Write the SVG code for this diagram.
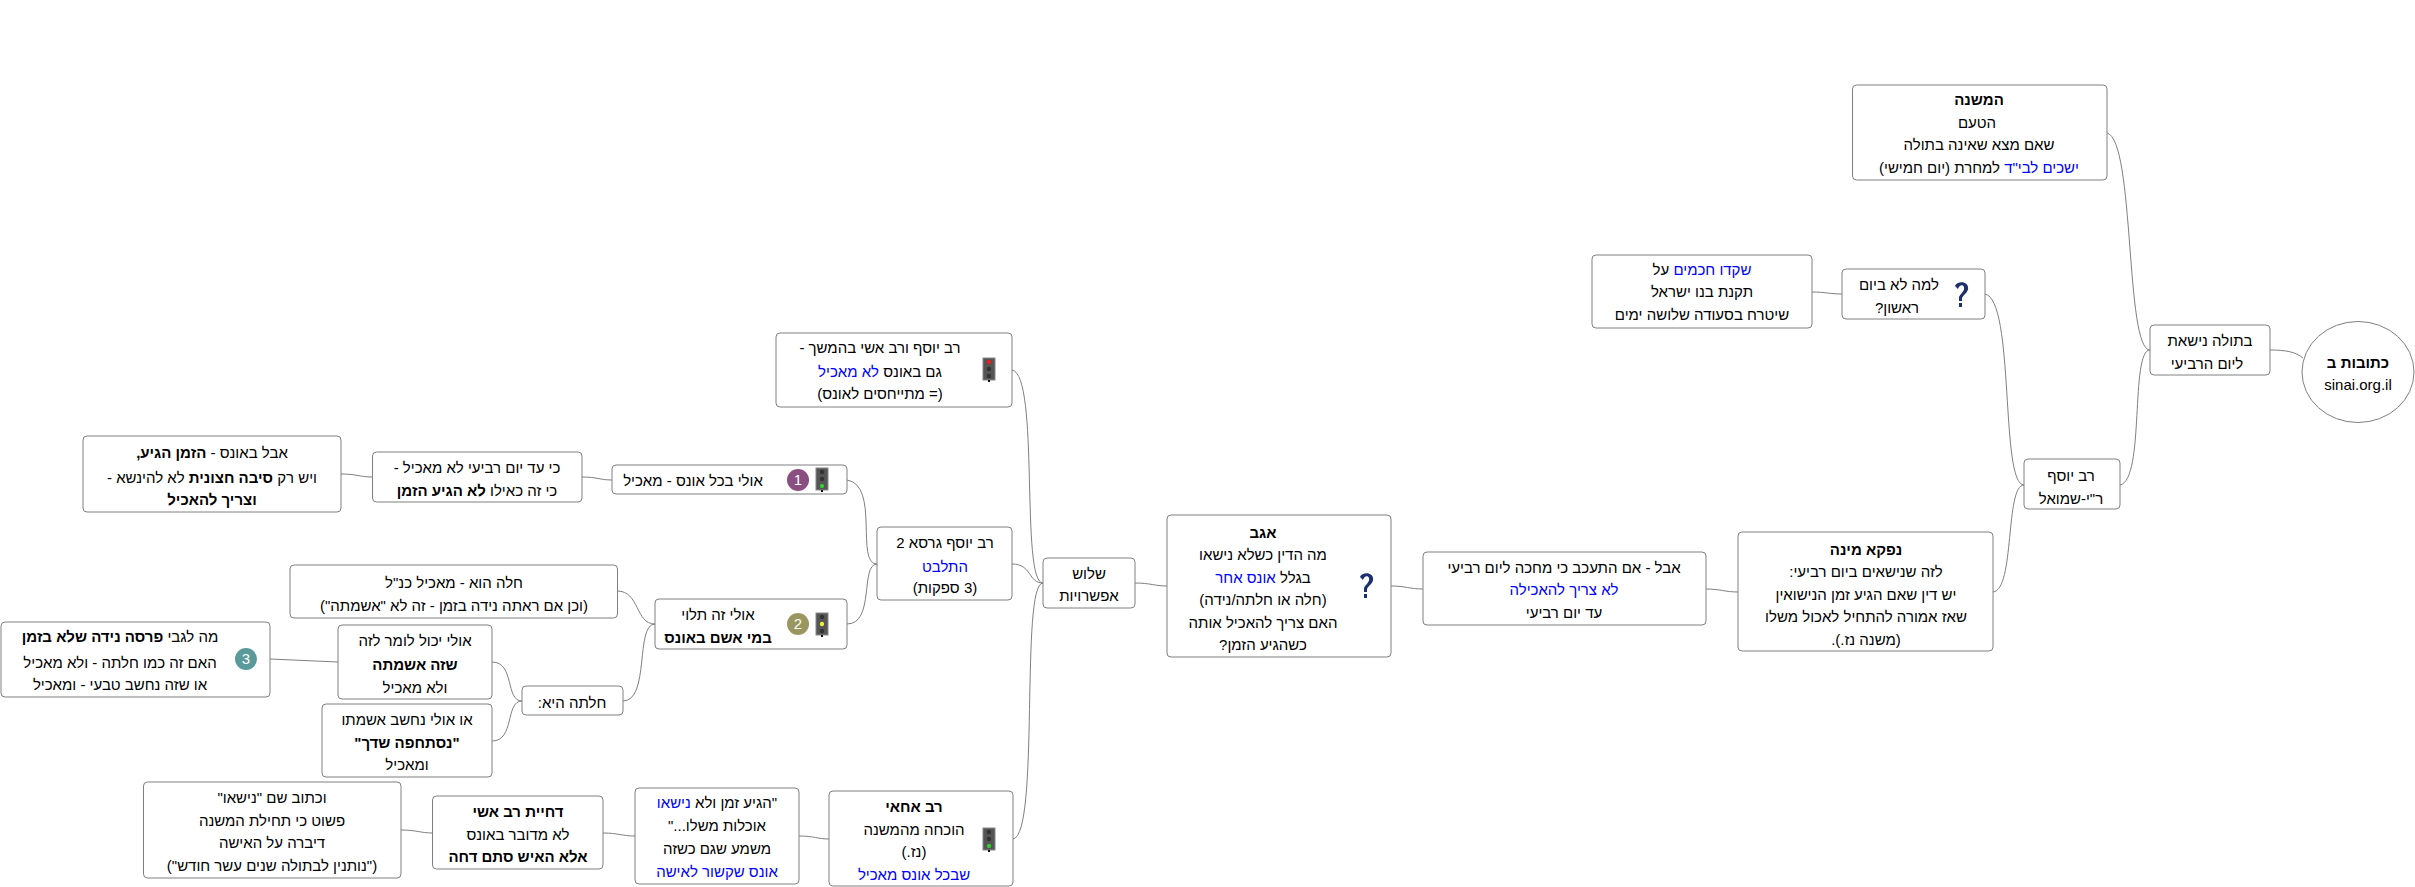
<svg xmlns="http://www.w3.org/2000/svg" width="2415" height="887" viewBox="0 0 2415 887">
<style>
text{font-family:"Liberation Sans",Arial,sans-serif;font-size:15px;fill:#000;text-anchor:middle;direction:rtl}
.b{font-weight:bold}.u{fill:#00f}
rect,ellipse{fill:#fff;stroke:#808080;stroke-width:1}
#connectors path{fill:none;stroke:#808080;stroke-width:1}
</style>
<rect x="0" y="0" width="2415" height="887" style="fill:#fff;stroke:none"/>
<g id="connectors">
<path d="M2270 350C2286 350 2296 352 2303 358"/>
<path d="M2107 133C2135 140 2125 350 2150 350"/>
<path d="M2120 485C2145 480 2130 350 2150 350"/>
<path d="M1985 294C2015 300 2000 485 2024 485"/>
<path d="M1812 292C1825 292 1830 294 1842 294"/>
<path d="M1993 592C2015 590 2005 485 2024 485"/>
<path d="M1706 589C1720 589 1725 592 1738 592"/>
<path d="M1391 586C1405 586 1410 589 1423 589"/>
<path d="M1135 583C1150 583 1155 586 1167 586"/>
<path d="M1012 370C1040 375 1020 583 1043 583"/>
<path d="M1012 564C1032 564 1028 583 1043 583"/>
<path d="M1013 839C1040 835 1020 583 1043 583"/>
<path d="M847 480C880 485 855 564 877 564"/>
<path d="M847 624C875 624 860 564 877 564"/>
<path d="M582 477C597 477 600 480 612 480"/>
<path d="M341 474C357 474 360 477 372 477"/>
<path d="M617 591C640 591 635 624 655 624"/>
<path d="M623 701C650 701 635 624 655 624"/>
<path d="M492 662C515 662 505 701 522 701"/>
<path d="M492 741C515 741 505 701 522 701"/>
<path d="M270 659L338 662"/>
<path d="M603 833C618 833 622 836 635 836"/>
<path d="M401 830C417 830 420 833 433 833"/>
<path d="M799 836C815 836 817 839 829 839"/>
</g>
<defs>
<g id="q"><path d="M-6 -9C-4 -14 6 -14 7 -8C8 -3 3 -1 1 3V6H-2V2C0 -2 4 -4 3 -8C2 -11 -2 -10 -3 -6Z" fill="#1c2f6e"/><rect x="-2" y="8" width="3" height="4" style="fill:#1c2f6e;stroke:none"/></g>
<g id="tl"><rect x="-6" y="-11" width="12" height="22" style="fill:#555;stroke:#888"/><rect x="-1" y="11" width="2" height="2" style="fill:#111;stroke:none"/><circle cx="0" cy="-7" r="2.2" fill="#333"/><circle cx="0" cy="0" r="2.2" fill="#333"/><circle cx="0" cy="7" r="2.2" fill="#333"/></g>
</defs>
<g id="n-root"><ellipse cx="2358" cy="372" rx="56" ry="50.5"/><text x="2358" y="368" class="b">כתובות ב</text><text x="2358" y="390" style="direction:ltr">sinai.org.il</text></g>
<g id="n-betula"><rect x="2150" y="325" width="120" height="50" rx="4"/><text x="2210" y="346">בתולה נישאת</text><text x="2207" y="369">ליום הרביעי</text></g>
<g id="n-mishna"><rect x="1852.500" y="85" width="254.500" height="95" rx="4"/><text x="1979" y="105" class="b">המשנה</text><text x="1977" y="128">הטעם</text><text x="1979" y="150">שאם מצא שאינה בתולה</text><text x="1979" y="173"><tspan class="u">ישכים לבי"ד</tspan>  למחרת (יום חמישי)</text></g>
<g id="n-lama"><rect x="1842" y="269" width="143" height="50" rx="4"/><text x="1899" y="290">למה לא ביום</text><text x="1897" y="313">ראשון?</text><use href="#q" x="1961" y="295"/></g>
<g id="n-shakdu"><rect x="1592" y="255" width="220" height="73" rx="4"/><text x="1702" y="275"><tspan class="u">שקדו חכמים</tspan> על</text><text x="1702" y="297">תקנת בנו ישראל</text><text x="1702" y="320">שיטרח בסעודה שלושה ימים</text></g>
<g id="n-yosef"><rect x="2024" y="459" width="96" height="50" rx="4"/><text x="2071" y="481">רב יוסף</text><text x="2071" y="504">ר"י-שמואל</text></g>
<g id="n-nafka"><rect x="1738" y="532" width="255" height="119" rx="4"/><text x="1866" y="555" class="b">נפקא מינה</text><text x="1866" y="577">לזה שנישאים ביום רביעי:</text><text x="1866" y="600">יש דין שאם הגיע זמן הנישואין</text><text x="1866" y="622">שאז אמורה להתחיל לאכול משלו</text><text x="1866" y="645">(משנה נז.).</text></g>
<g id="n-aval"><rect x="1423" y="552" width="283" height="73" rx="4"/><text x="1564" y="573">אבל - אם התעכב כי מחכה ליום רביעי</text><text x="1564" y="595" class="u">לא צריך להאכילה</text><text x="1564" y="618">עד יום רביעי</text></g>
<g id="n-agav"><rect x="1167" y="515" width="224" height="142" rx="4"/><text x="1263" y="538" class="b">אגב</text><text x="1263" y="560">מה הדין כשלא נישאו</text><text x="1263" y="583">בגלל <tspan class="u">אונס אחר</tspan></text><text x="1263" y="605">(חלה או חלתה/נידה)</text><text x="1263" y="628">האם צריך להאכיל אותה</text><text x="1263" y="650">כשהגיע הזמן?</text><use href="#q" x="1366" y="586"/></g>
<g id="n-shalosh"><rect x="1043" y="558" width="92" height="50" rx="4"/><text x="1089" y="579">שלוש</text><text x="1089" y="601">אפשרויות</text></g>
<g id="n-ashi"><rect x="776" y="333" width="236" height="74" rx="4"/><text x="880" y="353">רב יוסף ורב אשי בהמשך -</text><text x="880" y="377">גם באונס <tspan class="u">לא מאכיל</tspan></text><text x="880" y="399">(= מתייחסים לאונס)</text><use href="#tl" x="989" y="369"/><circle cx="989" cy="362" r="2.200" fill="#f02020"/></g>
<g id="n-yosef2"><rect x="877" y="527" width="135" height="73" rx="4"/><text x="945" y="548">רב יוסף גרסא 2</text><text x="945" y="572" class="u">התלבט</text><text x="945" y="593">(3 ספקות)</text></g>
<g id="n-all"><rect x="612" y="465" width="235" height="29" rx="4"/><text x="693" y="486">אולי בכל אונס - מאכיל</text><circle cx="798" cy="480" r="11" fill="#8a4f80"/><text x="798" y="485" style="fill:#fff">1</text><use href="#tl" x="822" y="479"/><circle cx="822" cy="486" r="2.200" fill="#30d030"/></g>
<g id="n-tluy"><rect x="655" y="599" width="192" height="50" rx="4"/><text x="718" y="620">אולי זה תלוי</text><text x="718" y="643" class="b">במי אשם באונס</text><circle cx="798" cy="624" r="11" fill="#9a9660"/><text x="798" y="629" style="fill:#fff">2</text><use href="#tl" x="822" y="624"/><circle cx="822" cy="624" r="2.200" fill="#f0f030"/></g>
<g id="n-ki"><rect x="372.500" y="452" width="209.500" height="50" rx="4"/><text x="477" y="473">כי עד יום רביעי לא מאכיל -</text><text x="477" y="496">כי זה כאילו <tspan class="b">לא הגיע הזמן</tspan></text></g>
<g id="n-avalones"><rect x="83" y="436" width="258" height="76" rx="4"/><text x="212" y="458">אבל באונס - <tspan class="b">הזמן הגיע,</tspan></text><text x="212" y="483">ויש רק <tspan class="b">סיבה חצונית</tspan>  לא להינשא -</text><text x="212" y="505" class="b">וצריך להאכיל</text></g>
<g id="n-hole"><rect x="290" y="565" width="327.500" height="53" rx="4"/><text x="454" y="588">חלה הוא - מאכיל כנ"ל</text><text x="454" y="611">(וכן אם ראתה נידה בזמן - זה לא "אשמתה")</text></g>
<g id="n-helta"><rect x="522" y="686" width="101" height="29" rx="4"/><text x="572" y="708">חלתה היא:</text></g>
<g id="n-yachol"><rect x="338" y="625" width="154" height="74" rx="4"/><text x="415" y="646">אולי יכול לומר לזה</text><text x="415" y="670" class="b">שזה אשמתה</text><text x="415" y="693">ולא מאכיל</text></g>
<g id="n-ulay"><rect x="322" y="704" width="170" height="73" rx="4"/><text x="407" y="725">או אולי נחשב אשמתו</text><text x="407" y="748" class="b">"נסתחפה שדך"</text><text x="407" y="770">ומאכיל</text></g>
<g id="n-parsa"><rect x="1" y="622" width="269" height="75" rx="4"/><text x="120" y="642">מה לגבי <tspan class="b">פרסה נידה שלא בזמן</tspan></text><text x="120" y="668">האם זה כמו חלתה - ולא מאכיל</text><text x="120" y="690">או שזה נחשב טבעי - ומאכיל</text><circle cx="246" cy="659" r="11" fill="#5a9a9a"/><text x="246" y="664" style="fill:#fff">3</text></g>
<g id="n-achai"><rect x="829" y="791" width="184" height="95" rx="4"/><text x="914" y="812" class="b">רב אחאי</text><text x="914" y="835">הוכחה מהמשנה</text><text x="914" y="857">(נז.)</text><text x="914" y="880" class="u">שבכל אונס מאכיל</text><use href="#tl" x="989" y="839"/><circle cx="989" cy="846" r="2.200" fill="#30d030"/></g>
<g id="n-higia"><rect x="635" y="788" width="164" height="96" rx="4"/><text x="717" y="808">"הגיע זמן ולא <tspan class="u">נישאו</tspan></text><text x="717" y="831">אוכלות משלו..."</text><text x="717" y="854">משמע שגם כשזה</text><text x="717" y="877" class="u">אונס שקשור לאישה</text></g>
<g id="n-dchiya"><rect x="432.500" y="796" width="170.500" height="73" rx="4"/><text x="518" y="817" class="b">דחיית רב אשי</text><text x="518" y="840">לא מדובר באונס</text><text x="518" y="862" class="b">אלא האיש סתם דחה</text></g>
<g id="n-ktuv"><rect x="143.500" y="782" width="257.500" height="96" rx="4"/><text x="272" y="803">וכתוב שם "נישאו"</text><text x="272" y="826">פשוט כי תחילת המשנה</text><text x="272" y="848">דיברה על האישה</text><text x="272" y="871">("נותנין לבתולה שנים עשר חודש")</text></g>
</svg>
